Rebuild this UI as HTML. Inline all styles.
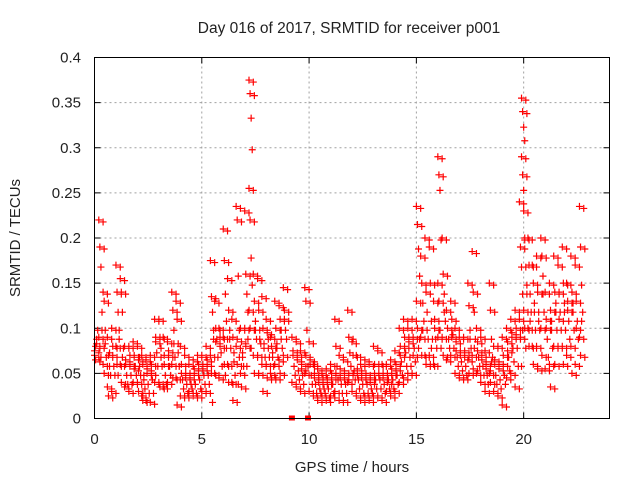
<!DOCTYPE html>
<html><head><meta charset="utf-8"><style>
body{margin:0;background:#fff;width:640px;height:480px;overflow:hidden}
svg{display:block;font-family:"Liberation Sans",sans-serif}
</style></head><body>
<svg id="chart" width="640" height="480">
<text x="349" y="33" text-anchor="middle" font-size="15.5" fill="#222">Day 016 of 2017, SRMTID for receiver p001</text>
<text x="352" y="472" text-anchor="middle" font-size="15" fill="#222">GPS time / hours</text>
<text transform="translate(20,238) rotate(-90)" text-anchor="middle" font-size="15" fill="#222">SRMTID / TECUs</text>
<g id="grid"></g><g id="ticks"></g><g id="marks"></g>
<rect x="94.5" y="57.5" width="515" height="361" fill="none" stroke="#000" stroke-width="1"/>
</svg>
<script>
const xTicks=[0,5,10,15,20];
const yTicks=[0,0.05,0.1,0.15,0.2,0.25,0.3,0.35,0.4];
const yTickLabels=["0","0.05","0.1","0.15","0.2","0.25","0.3","0.35","0.4"];
const binTimes=[0,0.2,0.4,0.6,0.8,1.0,1.2,1.4,1.6,1.8,2.0,2.2,2.4,2.6,2.8,3.0,3.2,3.4,3.6,3.8,4.0,4.2,4.4,4.6,4.8,5.0,5.2,5.4,5.6,5.8,6.0,6.2,6.4,6.6,6.8,7.0,7.2,7.4,7.6,7.8,8.0,8.2,8.4,8.6,8.8,9.2,9.4,9.6,9.8,10.0,10.2,10.4,10.6,10.8,11.0,11.2,11.4,11.6,11.8,12.0,12.2,12.4,12.6,12.8,13.0,13.2,13.4,13.6,13.8,14.0,14.2,14.4,14.6,14.8,15.0,15.2,15.4,15.6,15.8,16.0,16.2,16.4,16.6,16.8,17.0,17.2,17.4,17.6,17.8,18.0,18.2,18.4,18.6,18.8,19.0,19.2,19.4,19.6,19.8,19.9,20.0,20.2,20.4,20.6,20.8,21.0,21.2,21.4,21.6,21.8,22.0,22.2,22.4,22.6];
const binValues=[
[.07,.08,.09,.1,.075,.065,.085],[.22,.19,.17,.12,.09,.08,.07,.1],[.14,.13,.1,.07,.06,.05,.085],[.09,.07,.06,.05,.035,.025,.075],[.1,.08,.06,.05,.03,.07],
[.17,.14,.12,.1,.08,.06,.05,.09],[.155,.14,.12,.08,.06,.04,.07],[.08,.06,.05,.04,.035,.065],[.08,.06,.05,.04,.03,.07],[.085,.07,.06,.05,.04,.055],
[.08,.065,.06,.05,.04,.03,.07],[.07,.06,.05,.035,.025,.02,.045],[.065,.05,.04,.03,.02,.055],[.07,.06,.045,.03,.018,.05],[.11,.09,.075,.06,.04,.085],
[.11,.09,.08,.06,.04,.035,.07],[.09,.07,.05,.04,.035,.06],[.085,.07,.06,.05,.04,.075],[.14,.12,.1,.07,.06,.045,.085],[.13,.11,.085,.06,.045,.015,.075],
[.08,.06,.045,.035,.025,.05],[.07,.05,.04,.03,.025,.045],[.06,.05,.04,.035,.03,.045],[.065,.05,.04,.03,.025,.055],[.07,.055,.045,.035,.025,.06],
[.07,.06,.05,.04,.03,.055],[.08,.065,.05,.04,.03,.06],[.175,.135,.12,.09,.07,.05,.02,.1],[.13,.1,.09,.07,.05,.085],[.1,.09,.075,.06,.045,.08],
[.21,.175,.14,.11,.09,.06,.05,.08],[.155,.12,.1,.08,.06,.04,.09],[.11,.09,.065,.05,.04,.02,.075],[.235,.22,.16,.1,.08,.06,.04,.07],[.1,.085,.07,.06,.05,.035,.075],
[.23,.16,.14,.12,.1,.08,.06,.09],[.375,.36,.335,.3,.255,.22,.18,.15,.12,.1,.08],[.16,.13,.11,.09,.07,.05,.1],[.155,.12,.1,.085,.07,.05,.09],[.135,.1,.085,.07,.06,.03,.08],
[.11,.095,.08,.07,.06,.045,.09],[.09,.08,.07,.06,.05,.045,.075],[.13,.1,.085,.07,.06,.045,.08],[.125,.11,.1,.08,.065,.05,.09],[.145,.12,.1,.09,.07,.11],
[.09,.075,.06,.05,.04,.07],[.085,.07,.055,.045,.035,.065],[.075,.06,.05,.04,.03,.055],[.145,.13,.1,.06,.05,.07],[.085,.065,.05,.04,.03,.06],
[.06,.045,.04,.03,.025,.05],[.055,.045,.035,.03,.02,.04],[.05,.04,.035,.03,.025,.045],[.055,.045,.035,.025,.02,.04],[.06,.05,.04,.03,.025,.045],
[.11,.08,.06,.045,.03,.05],[.07,.055,.04,.03,.02,.045],[.065,.05,.04,.03,.02,.045],[.12,.09,.075,.06,.04,.05],[.085,.07,.055,.045,.03,.05],
[.07,.055,.045,.035,.025,.05],[.06,.05,.04,.03,.02,.045],[.065,.05,.04,.03,.025,.045],[.06,.045,.035,.03,.02,.04],[.08,.06,.045,.035,.025,.05],
[.075,.06,.045,.035,.025,.05],[.06,.05,.04,.03,.02,.045],[.06,.05,.045,.035,.03,.04],[.065,.055,.045,.035,.025,.05],[.075,.06,.05,.04,.03,.055],
[.1,.08,.065,.05,.04,.07],[.11,.09,.075,.06,.045,.08],[.1,.085,.07,.06,.05,.09],[.11,.09,.08,.065,.05,.07],[.235,.215,.19,.16,.13,.1,.08,.09],
[.18,.15,.13,.11,.09,.07,.1],[.2,.14,.12,.09,.07,.06,.1],[.19,.15,.11,.09,.07,.06,.08],[.13,.11,.09,.08,.06,.1],[.29,.27,.255,.2,.15,.13,.1,.08,.09],
[.2,.16,.14,.11,.09,.07,.12],[.12,.1,.09,.08,.065,.1],[.13,.11,.095,.08,.07,.09],[.1,.085,.07,.06,.05,.075],[.09,.075,.065,.055,.045,.07],
[.09,.075,.06,.05,.045,.07],[.15,.125,.1,.08,.065,.05,.09],[.185,.14,.12,.09,.07,.055,.08],[.1,.085,.07,.06,.05,.075],[.09,.07,.06,.05,.04,.065],
[.075,.06,.05,.04,.03,.055],[.15,.12,.09,.07,.05,.04,.065],[.08,.065,.05,.04,.03,.06],[.08,.06,.045,.035,.025,.055],[.09,.07,.05,.04,.015,.06],
[.1,.085,.07,.055,.045,.075],[.11,.095,.08,.065,.05,.09],[.12,.1,.08,.06,.035,.09],[.24,.19,.17,.14,.11,.09,.06,.1],[.355,.34,.325,.31,.29,.27,.255,.2],
[.23,.2,.17,.15,.12,.1,.08,.14],[.2,.17,.14,.12,.1,.08,.11],[.17,.15,.13,.1,.08,.06,.12],[.18,.14,.12,.1,.08,.055,.11],[.2,.18,.16,.12,.1,.07,.14],
[.14,.11,.09,.07,.055,.1],[.15,.12,.1,.08,.06,.035,.11],[.18,.14,.12,.1,.08,.06,.13],[.17,.14,.12,.1,.08,.11],[.19,.15,.13,.1,.08,.06,.12],
[.15,.13,.11,.09,.07,.12],[.18,.14,.12,.1,.08,.05,.13],[.17,.13,.11,.09,.06,.1],[.235,.19,.15,.12,.09,.07,.11]];
const zeroTimes=[9.2,9.95];
const NS="http://www.w3.org/2000/svg";
const X0=94.5,X1=609.5,Y0=418.5,Y1=57.5;
function sx(h){return X0+(h/24)*(X1-X0);}
function sy(v){return Y0-(v/0.4)*(Y0-Y1);}
function mk(tag,attrs,parent){const e=document.createElementNS(NS,tag);for(const k in attrs)e.setAttribute(k,attrs[k]);parent.appendChild(e);return e;}
const grid=document.getElementById('grid'),ticks=document.getElementById('ticks'),marks=document.getElementById('marks');
xTicks.forEach(t=>{const x=sx(t);
 if(t>0){const g=mk('line',{x1:x,y1:Y0,x2:x,y2:Y1,stroke:'#a0a0a0','stroke-dasharray':'2,3'},grid);
 
 }
 mk('line',{x1:x,y1:Y0,x2:x,y2:Y0-6,stroke:'#000'},ticks);
 mk('line',{x1:x,y1:Y1,x2:x,y2:Y1+6,stroke:'#000'},ticks);
 const l=mk('text',{x:x,y:444,'text-anchor':'middle','font-size':15,fill:'#222'},ticks);l.textContent=t;
 
 
});
yTicks.forEach((t,i)=>{const y=sy(t);
 if(t>0&&t<0.4){const g=mk('line',{x1:X0,y1:y,x2:X1,y2:y,stroke:'#a0a0a0','stroke-dasharray':'2,3'},grid);
 
 }
 mk('line',{x1:X0,y1:y,x2:X0+6,y2:y,stroke:'#000'},ticks);
 mk('line',{x1:X1,y1:y,x2:X1-6,y2:y,stroke:'#000'},ticks);
 const l=mk('text',{x:81,y:y+5,'text-anchor':'end','font-size':15,fill:'#222'},ticks);l.textContent=yTickLabels[i];
 
 
});
let d='';
binTimes.forEach((t,b)=>{binValues[b].forEach((v,i)=>{
 [ (i%4)*0.05, 0.1+((i+2)%4)*0.05 ].forEach(off=>{
  const x=sx(t+off),y=sy(v)+(off>0.09?2:0);
  d+=`M${x-3.5},${y}h7M${x},${y-3.5}v7`;});});});
const p=mk('path',{d:d,stroke:'#ff0000','stroke-width':1.2,fill:'none'},marks);


zeroTimes.forEach(t=>{const r=mk('rect',{x:sx(t)-3,y:Y0-3,width:6,height:5,fill:'#ff0000'},marks);
 
 });
</script>
</body></html>
